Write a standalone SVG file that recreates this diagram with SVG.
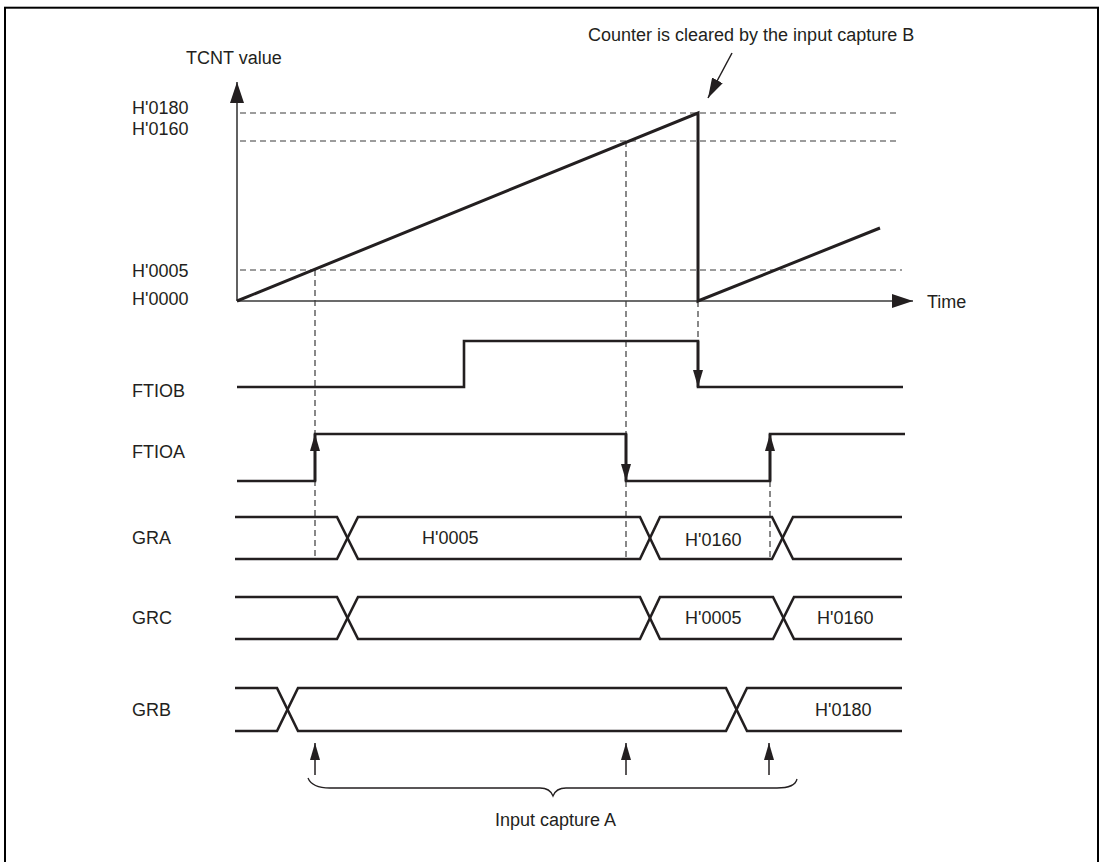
<svg xmlns="http://www.w3.org/2000/svg" width="1102" height="862" viewBox="0 0 1102 862">
<style>
text{font-family:"Liberation Sans",Arial,sans-serif;font-size:18px;fill:#231f20}
.frame{fill:none;stroke:#000;stroke-width:2}
.axis{fill:none;stroke:#3a3a3a;stroke-width:1.6}
.dash{fill:none;stroke:#3a3a3a;stroke-width:1.2;stroke-dasharray:6 4}
.ramp{fill:none;stroke:#231f20;stroke-width:3}
.sig{fill:none;stroke:#231f20;stroke-width:2.6;stroke-linejoin:miter}
.thin{fill:none;stroke:#231f20;stroke-width:1.5}
.brace{fill:none;stroke:#231f20;stroke-width:1.3}
</style>
<defs>
<marker id="axisHead" viewBox="0 0 21 14" markerWidth="21" markerHeight="14" refX="21" refY="7" orient="auto" markerUnits="userSpaceOnUse"><path d="M0,0 L21,7 L0,14 Z" fill="#231f20"/></marker>
<marker id="sigHead" viewBox="0 0 17 10" markerWidth="17" markerHeight="10" refX="17" refY="5" orient="auto" markerUnits="userSpaceOnUse"><path d="M0,0 L17,5 L0,10 Z" fill="#231f20"/></marker>
<marker id="leadHead" viewBox="0 0 20 12" markerWidth="20" markerHeight="12" refX="20" refY="6" orient="auto" markerUnits="userSpaceOnUse"><path d="M0,0 L20,6 L0,12 Z" fill="#231f20"/></marker>
</defs>
<rect class="frame" x="5" y="7.7" width="1093" height="880"/>

<g id="labels">
<text x="186" y="64">TCNT value</text>
<text x="588" y="41">Counter is cleared by the input capture B</text>
<text x="132" y="114">H'0180</text>
<text x="132" y="135">H'0160</text>
<text x="132" y="277">H'0005</text>
<text x="132" y="305">H'0000</text>
<text x="927" y="308">Time</text>
<text x="132" y="397">FTIOB</text>
<text x="132" y="458">FTIOA</text>
<text x="132" y="544">GRA</text>
<text x="132" y="624">GRC</text>
<text x="132" y="716">GRB</text>
<text x="495" y="826">Input capture A</text>
</g>

<g id="connectors">
<path class="dash" d="M240,113 H900 M240,141 H900 M240,270 H902"/>
<path class="dash" d="M315,270 V559 M626,141 V559 M698,301 V341 M770,481 V559"/>
<path class="axis" d="M237,301 V82" marker-end="url(#axisHead)"/>
<path class="axis" d="M237,301 H913" marker-end="url(#axisHead)"/>
<path class="thin" d="M732,53 L708,98" marker-end="url(#leadHead)"/>
</g>

<g id="tcnt">
<path class="ramp" d="M237,301 L698,113 V301 L880,228"/>
</g>

<g id="ftiob">
<path class="sig" d="M237,387 H464 V341 H698 V387 H903"/>
<path class="sig" d="M698,341 V387" marker-end="url(#sigHead)"/>
</g>

<g id="ftioa">
<path class="sig" d="M237,481 H315 V434 H626 V481 H770 V434 H905"/>
<path class="sig" d="M315,481 V434" marker-end="url(#sigHead)"/>
<path class="sig" d="M626,434 V481" marker-end="url(#sigHead)"/>
<path class="sig" d="M770,481 V434" marker-end="url(#sigHead)"/>
</g>

<g id="gra">
<path class="sig" d="M235,517 H337 L358,559 H640 L660,517 H772 L793,559 H902"/>
<path class="sig" d="M235,559 H337 L358,517 H640 L660,559 H772 L793,517 H902"/>
<text x="422" y="544">H'0005</text>
<text x="685" y="546">H'0160</text>
</g>

<g id="grc">
<path class="sig" d="M235,597 H337 L358,639 H640 L660,597 H773 L794,639 H902"/>
<path class="sig" d="M235,639 H337 L358,597 H640 L660,639 H773 L794,597 H902"/>
<text x="685" y="624">H'0005</text>
<text x="817" y="624">H'0160</text>
</g>

<g id="grb">
<path class="sig" d="M235,688 H277 L298,731 H726 L747,688 H902"/>
<path class="sig" d="M235,731 H277 L298,688 H726 L747,731 H902"/>
<text x="815" y="716">H'0180</text>
</g>

<g id="capture">
<path class="thin" d="M315,775 V743" marker-end="url(#sigHead)"/>
<path class="thin" d="M626,775 V743" marker-end="url(#sigHead)"/>
<path class="thin" d="M769,775 V743" marker-end="url(#sigHead)"/>
<path class="brace" d="M308,778 Q312,788 330,788 H540 Q550,788 553,796 Q556,788 566,788 H777 Q795,788 797,779"/>
</g>
</svg>
